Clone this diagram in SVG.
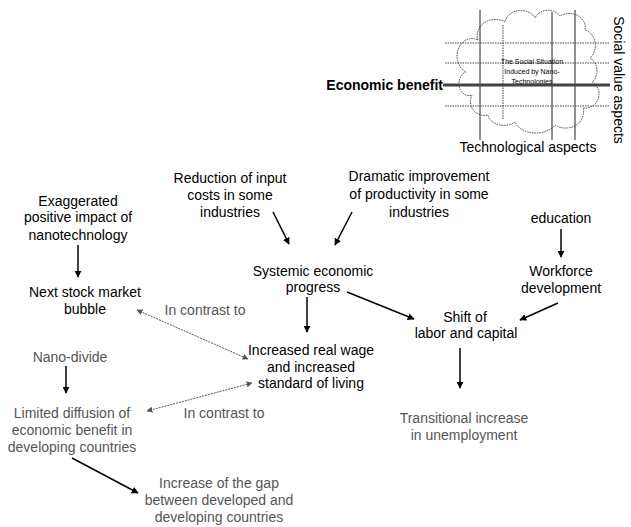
<svg xmlns="http://www.w3.org/2000/svg" width="631" height="527" viewBox="0 0 631 527">
<defs>
<style>
text{font-family:"Liberation Sans",Arial,sans-serif;font-size:14px;text-anchor:middle;fill:#000}
.g{fill:#555}
.ln{stroke:#000;stroke-width:1.5;fill:none}
.dl{stroke:#555;stroke-width:1;stroke-dasharray:2 1;fill:none}
.th{stroke:#222;stroke-width:1;fill:none}
.dt{stroke:#444;stroke-width:1;stroke-dasharray:1.5 1;fill:none}
.ct{font-size:7px}
</style>
<marker id="ah" viewBox="0 0 10 10" refX="9" refY="5" markerWidth="7" markerHeight="7" markerUnits="userSpaceOnUse" orient="auto"><path d="M0,0 L10,5 L0,10 Z" fill="#000"/></marker>
<marker id="ag" viewBox="0 0 10 10" refX="9" refY="5" markerWidth="6" markerHeight="6" markerUnits="userSpaceOnUse" orient="auto-start-reverse"><path d="M0,0 L10,5 L0,10 Z" fill="#555"/></marker>
</defs>
<g id="inset">
<path class="dt" d="M478 40 A18 16 0 0 1 505 22 A16 14 0 0 1 535 18 A14 12 0 0 1 560 16 A16 14 0 0 1 585 30 A14 16 0 0 1 590 58 A12 14 0 0 1 592 82 A14 14 0 0 1 583 108 A18 16 0 0 1 555 125 A22 16 0 0 1 515 122 A16 12 0 0 1 488 115 A14 14 0 0 1 472 95 A10 12 0 0 1 466 72 A12 14 0 0 1 478 40 Z"/>
<line class="th" x1="480" y1="10" x2="480" y2="140"/>
<line class="dt" x1="503" y1="25" x2="503" y2="120"/>
<line class="th" x1="552" y1="12" x2="552" y2="140"/>
<line class="th" x1="575" y1="10" x2="575" y2="140"/>
<line class="dt" x1="445" y1="43" x2="610" y2="43"/>
<line class="dt" x1="445" y1="63" x2="610" y2="63"/>
<line class="dt" x1="445" y1="106" x2="610" y2="106"/>
<text class="ct" x="532" y="64">The Social Situation</text>
<text class="ct" x="532" y="74">Induced by Nano-</text>
<text class="ct" x="532" y="84">Technologies</text>
<line x1="443" y1="85" x2="610" y2="85" stroke="#444" stroke-width="3"/>
<text x="443" y="90" style="text-anchor:end;font-weight:bold">Economic benefit</text>
<text x="528" y="152">Technological aspects</text>
<text transform="translate(614,80) rotate(90)">Social value aspects</text>
</g>
<g id="n-exag"><text x="78" y="206">Exaggerated</text><text x="78" y="222">positive impact of</text><text x="78" y="240">nanotechnology</text></g>
<g id="n-bubble"><text x="85" y="297">Next stock market</text><text x="85" y="314">bubble</text></g>
<g id="n-reduction"><text x="230" y="183">Reduction of input</text><text x="230" y="200">costs in some</text><text x="230" y="217">industries</text></g>
<g id="n-dramatic"><text x="419" y="181">Dramatic improvement</text><text x="419" y="199">of productivity in some</text><text x="419" y="217">industries</text></g>
<g id="n-systemic"><text x="313" y="276">Systemic economic</text><text x="313" y="292">progress</text></g>
<g id="n-education"><text x="561" y="223">education</text></g>
<g id="n-workforce"><text x="561" y="276">Workforce</text><text x="561" y="293">development</text></g>
<g id="n-shift"><text x="465" y="322">Shift of</text><text x="466" y="338">labor and capital</text></g>
<g id="n-trans"><text class="g" x="464" y="423">Transitional increase</text><text class="g" x="464" y="440">in unemployment</text></g>
<g id="n-wage"><text x="311" y="355">Increased real wage</text><text x="311" y="372">and increased</text><text x="311" y="388">standard of living</text></g>
<g id="n-contrast1"><text class="g" x="205" y="315">In contrast to</text></g>
<g id="n-contrast2"><text class="g" x="224" y="418">In contrast to</text></g>
<g id="n-nano"><text class="g" x="70" y="362">Nano-divide</text></g>
<g id="n-limited"><text class="g" x="72" y="418">Limited diffusion of</text><text class="g" x="72" y="435">economic benefit in</text><text class="g" x="72" y="452">developing countries</text></g>
<g id="n-gap"><text class="g" x="219" y="488">Increase of the gap</text><text class="g" x="219" y="505">between developed and</text><text class="g" x="219" y="522">developing countries</text></g>
<g id="connectors">
<line class="ln" x1="78" y1="245" x2="78" y2="277" marker-end="url(#ah)"/>
<line class="ln" x1="273" y1="212" x2="289" y2="244" marker-end="url(#ah)"/>
<line class="ln" x1="352" y1="212" x2="335" y2="245" marker-end="url(#ah)"/>
<line class="ln" x1="307" y1="297" x2="307" y2="332" marker-end="url(#ah)"/>
<line class="ln" x1="347" y1="292" x2="414" y2="319" marker-end="url(#ah)"/>
<line class="ln" x1="561" y1="229" x2="561" y2="257" marker-end="url(#ah)"/>
<line class="ln" x1="558" y1="303" x2="520" y2="320" marker-end="url(#ah)"/>
<line class="ln" x1="460" y1="348" x2="460" y2="388" marker-end="url(#ah)"/>
<line class="ln" x1="66" y1="366" x2="66" y2="393" marker-end="url(#ah)"/>
<line class="ln" x1="72" y1="458" x2="138" y2="493" marker-end="url(#ah)"/>
<line class="dl" x1="137" y1="310" x2="248" y2="359" marker-start="url(#ag)" marker-end="url(#ag)"/>
<line class="dl" x1="147" y1="411" x2="252" y2="383" marker-start="url(#ag)" marker-end="url(#ag)"/>
</g>
</svg>
